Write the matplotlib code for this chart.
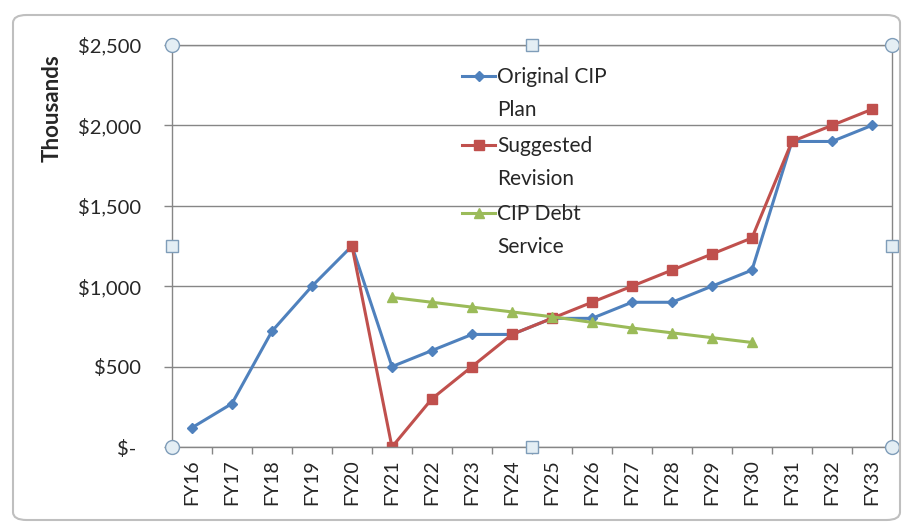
import numpy as np
import matplotlib.pyplot as plt
from matplotlib.patches import FancyBboxPatch
from matplotlib.ticker import FuncFormatter

plt.rcParams['font.family'] = ['Lato', 'DejaVu Sans']

years = ['FY16', 'FY17', 'FY18', 'FY19', 'FY20', 'FY21', 'FY22', 'FY23', 'FY24',
         'FY25', 'FY26', 'FY27', 'FY28', 'FY29', 'FY30', 'FY31', 'FY32', 'FY33']
nan = np.nan
original = [120, 270, 720, 1000, 1250, 500, 600, 700, 700,
            800, 800, 900, 900, 1000, 1100, 1900, 1900, 2000]
suggested = [nan, nan, nan, nan, 1250, 0, 300, 500, 700,
             800, 900, 1000, 1100, 1200, 1300, 1900, 2000, 2100]
debt = [nan, nan, nan, nan, nan, 930, 900, 870, 840,
        810, 775, 740, 710, 680, 650, nan, nan, nan]
yticks = [0, 500, 1000, 1500, 2000, 2500]

fig = plt.figure(figsize=(9.06, 5.28), dpi=100)
ax = fig.add_axes([0.1898, 0.1534, 0.7947, 0.7614])

x = np.arange(len(years))
ax.plot(x, original, '-D', color='#4F81BD', lw=2.2, ms=5, label='Original CIP\nPlan')
ax.plot(x, suggested, '-s', color='#C0504D', lw=2.2, ms=7, label='Suggested\nRevision')
ax.plot(x, debt, '-^', color='#9BBB59', lw=2.2, ms=7, label='CIP Debt\nService')

ax.set_xlim(-0.5, len(years) - 0.5)
ax.set_ylim(0, 2500)
ax.set_yticks(yticks)
ax.yaxis.set_major_formatter(FuncFormatter(lambda v, p: '$- ' if v == 0 else '${:,.0f}'.format(v)))
ax.grid(axis='y', color='#868686', lw=1)
ax.set_axisbelow(True)

ax.set_xticks(x)
ax.set_xticklabels(years, rotation=90)
ax.set_xticks(np.arange(-0.5, len(years)), minor=True)
ax.tick_params(axis='x', which='major', length=0, pad=9, labelsize=14, labelcolor='#262626')
ax.tick_params(axis='x', which='minor', length=5, color='#868686', width=1)
ax.tick_params(axis='y', length=6, color='#868686', width=1, pad=16, labelsize=14.5,
               labelcolor='#262626')
for s in ax.spines.values():
    s.set_color('#868686')
    s.set_linewidth(1)

fig.text(0.058, 0.795, 'Thousands', rotation=90, ha='center', va='center',
         fontsize=16, fontweight='bold', color='#262626')

leg = ax.legend(loc='upper left', bbox_to_anchor=(452 / 906, 1 - 57 / 528),
                bbox_transform=fig.transFigure, frameon=False, fontsize=15,
                borderpad=0, handlelength=1.55, handletextpad=0.1, handleheight=1.2,
                labelspacing=0.75)
for t in leg.get_texts():
    t.set_linespacing(1.8)
    t.set_color('#262626')
for col in leg._legend_handle_box.get_children():
    for row in col.get_children():
        row.align = 'top'

# selection handles on plot area corners and edges
hkw = dict(transform=ax.transAxes, clip_on=False, zorder=5, mec='#7F9DB9', mfc='#E4EEF4', mew=1)
for hx, hy in [(0, 0), (0, 1), (1, 0), (1, 1)]:
    ax.plot(hx, hy, 'o', ms=10, **hkw)
for hx, hy in [(0.5, 0), (0.5, 1), (0, 0.5), (1, 0.5)]:
    ax.plot(hx, hy, 's', ms=8, **hkw)

# chart area frame
fig.patches.append(FancyBboxPatch((13 / 906, 8 / 528), 887 / 906, 505 / 528,
                                  boxstyle='round,pad=0,rounding_size=0.015',
                                  transform=fig.transFigure, fc='none', ec='#BFBFBF', lw=1.5))

fig.savefig('out.png', dpi=100)
